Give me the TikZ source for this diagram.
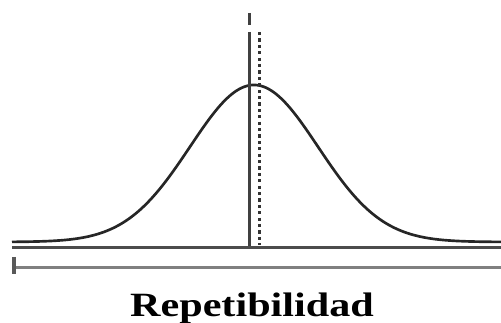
\documentclass[tikz,border=0pt]{standalone}
\usepackage{fontspec}
\setmainfont{Liberation Serif}
\begin{document}
\begin{tikzpicture}[x=0.75pt,y=-0.75pt,
  curve/.style={line width=2pt,black!85},
  axisline/.style={line width=1.7pt,black!70},
  meanline/.style={line width=1.9pt,black!75},
  refline/.style={line width=1.6pt,black!80,dash pattern=on 2.4pt off 2.4pt},
  title/.style={font=\bfseries\fontsize{25.5}{30}\selectfont,inner sep=0pt,anchor=base}]
\useasboundingbox (0,0) rectangle (501,323);
% coordinates
\coordinate (mtop) at (249.5,32);
\coordinate (mbot) at (249.5,247);
\coordinate (rtop) at (259.5,32);
\coordinate (rbot) at (259.5,245);
\coordinate (ttop) at (249.5,13);
\coordinate (tbot) at (249.5,25);
\coordinate (bl) at (12,247.5);
\coordinate (br) at (501,247.5);
\coordinate (sl) at (14,267.5);
\coordinate (sr) at (501,267.5);
\coordinate (tk1) at (14,257);
\coordinate (tk2) at (14,274);
% bell curve
\draw[curve] plot[domain=12:501,samples=250,smooth]
  (\x,{242-157*exp(-0.5*((\x-254)/64)^2)});
% vertical lines
\draw[meanline] (ttop) -- (tbot);
\draw[meanline] (mtop) -- (mbot);
\draw[refline] (rtop) -- (rbot);
% horizontal lines
\draw[axisline] (bl) -- (br);
\draw[axisline,black!50] (sl) -- (sr);
\draw[line width=2.6pt,black!65] (tk1) -- (tk2);
% label
\node[title] (lab) at (252,317) {\scalebox{1.24}[1]{Repetibilidad}};
\end{tikzpicture}
\end{document}
